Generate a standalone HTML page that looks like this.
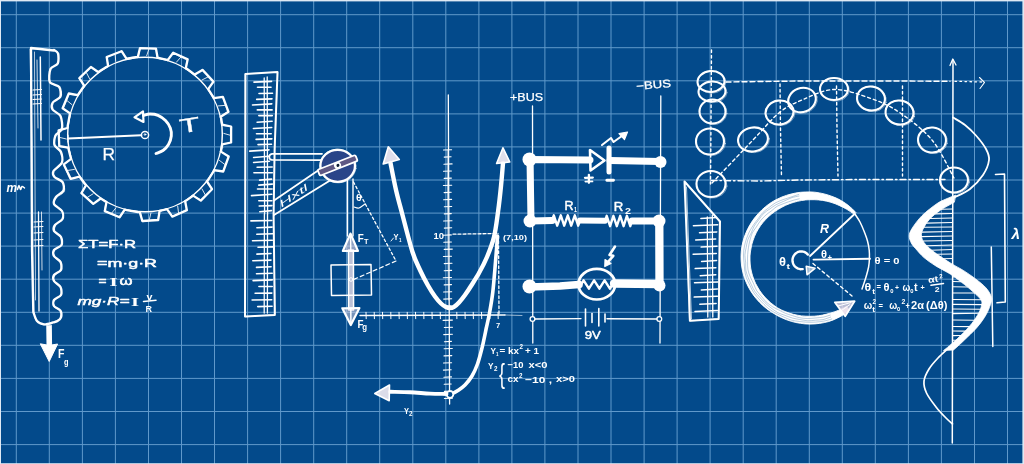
<!DOCTYPE html>
<html lang="en"><head><meta charset="utf-8"><title>Physics blueprint</title>
<style>html,body{margin:0;padding:0;background:#034a8b;overflow:hidden}svg{display:block}</style></head>
<body>
<svg width="1024" height="464" viewBox="0 0 1024 464"><rect width="1024" height="464" fill="#034a8b"/>
<path d="M16.3 0V464M49.3 0V464M82.4 0V464M115.4 0V464M148.5 0V464M181.5 0V464M214.5 0V464M247.6 0V464M280.6 0V464M313.7 0V464M346.7 0V464M379.7 0V464M412.8 0V464M445.8 0V464M478.9 0V464M511.9 0V464M544.9 0V464M578 0V464M611 0V464M644.1 0V464M677.1 0V464M710.1 0V464M743.2 0V464M776.2 0V464M809.3 0V464M842.3 0V464M875.3 0V464M908.4 0V464M941.4 0V464M974.5 0V464M1007.5 0V464M0 14.7H1024M0 47.7H1024M0 80.8H1024M0 113.9H1024M0 146.9H1024M0 180H1024M0 213.1H1024M0 246.1H1024M0 279.2H1024M0 312.3H1024M0 345.3H1024M0 378.4H1024M0 411.5H1024M0 444.6H1024" stroke="#6099cb" stroke-width="1" fill="none"/>
<rect x="0" y="0" width="1024" height="1.4" fill="#dfe9f4"/>
<rect x="0" y="0" width="1" height="464" fill="#dfe9f4"/>
<rect x="1022.4" y="0" width="1.6" height="464" fill="#dfe9f4"/>
<rect x="0" y="463.2" width="1024" height="0.8" fill="#dfe9f4"/>
<defs><filter id="soft" x="0" y="0" width="1024" height="464" filterUnits="userSpaceOnUse"><feGaussianBlur stdDeviation="0.38"/></filter></defs>
<g filter="url(#soft)">
<g stroke-linecap="round" stroke-linejoin="round" fill="none" stroke="#fff">
<path d="M31 48 L54 50.5  C54 50.4 53.4 49.6 54 50 C54.6 50.4 57.5 51.6 58 53.5 C58.5 55.4 58.8 61.3 57.8 63.5 C56.8 65.7 51.6 66.4 50.5 69 C49.4 71.6 48.6 79.5 49.8 82 C51 84.5 57.8 85 59.3 87 C60.8 89 61.4 94.3 60.5 96.5 C59.6 98.7 53.9 100.7 52.8 102.5 C51.7 104.3 51.4 107.6 52.5 109.5 C53.6 111.4 59.2 113.3 60.5 116 C61.8 118.7 62.7 126.3 62 129 C61.3 131.7 56.5 133.3 55.5 135.5 C54.5 137.7 53.7 142.7 54.5 145 C55.3 147.3 60 149.6 61 152 C62 154.4 63 159.8 62 162.5 C61 165.2 54.5 169 53.5 171 C52.5 173 53.2 175.5 54.5 177 C55.8 178.5 61.2 180.1 62.5 182 C63.8 183.9 64.4 188.4 63.5 190.5 C62.6 192.6 57.3 195.1 56 197 C54.7 198.9 53.2 202 54 204 C54.8 206 60.8 208.9 62 211 C63.2 213.1 63.5 217 62.5 219 C61.5 221 56.2 223.3 55 225 C53.8 226.7 53.2 229.3 54 231 C54.8 232.7 60 235 61 237 C62 239 62.5 243.2 61.5 245 C60.5 246.8 55 248.5 54 250 C53 251.5 53.1 254.3 54 256 C54.9 257.7 59.5 260 60.5 262 C61.5 264 61.9 268.2 61 270 C60.1 271.8 55 273.5 54 275 C53 276.5 53.1 279.3 54 281 C54.9 282.7 59.5 285 60.5 287 C61.5 289 61.9 293.2 61 295 C60.1 296.8 55 298.5 54 300 C53 301.5 53.1 304.5 54 306 C54.9 307.5 59.5 308.9 60.5 310.5 C61.5 312.1 61.4 316 61 317.5 C60.6 319 58.6 320.3 57.5 321 C56.4 321.7 54.9 322 53 322.5 C51.1 323 46.2 324.5 44 324.3 C41.8 324.1 38.5 322.7 37 321 C35.5 319.3 33.8 313.3 33.3 312 L32 250 L31.5 150 Z" stroke="#fff" stroke-width="2.3" fill="none" />
<path d="M30.3 49 L53 50  C53.1 50 53.1 49.6 53.9 50.1 C54.7 50.6 58.3 51.5 58.8 53.4 C59.4 55.3 59.1 61.5 57.8 63.7 C56.6 65.9 51 66.4 49.9 69 C48.8 71.7 48.9 80.1 50.1 82.6 C51.3 85 57.1 84.6 58.5 86.6 C59.8 88.6 60.4 95 59.7 97.1 C58.9 99.2 54.1 99.7 53.2 101.6 C52.3 103.4 52.4 108.4 53.5 110.4 C54.5 112.5 59.7 113.8 60.8 116.2 C61.9 118.7 62.1 125.5 61.3 128 C60.6 130.6 56.6 132.3 55.6 134.6 C54.5 136.9 53.2 142.1 53.9 144.5 C54.5 146.9 58.9 149.3 60.1 151.9 C61.2 154.5 62.8 160.5 61.9 163.2 C61 165.9 54.6 169.3 53.5 171.3 C52.5 173.3 53.3 175.9 54.5 177.3 C55.7 178.8 61 179.6 62.4 181.6 C63.8 183.5 65.3 189.3 64.5 191.5 C63.7 193.7 58.2 195.7 56.7 197.4 C55.2 199.1 52.9 201.7 53.6 203.5 C54.3 205.2 60.3 208 61.6 210.1 C62.9 212.3 63.9 216.8 63 218.8 C62.2 220.8 56.8 223 55.7 224.8 C54.6 226.6 54.3 230.1 54.9 231.7 C55.5 233.3 59 234.6 60 236.4 C61 238.3 63 243.1 62.3 244.9 C61.6 246.8 56.2 248.2 55 249.8 C53.7 251.4 52.3 254.6 53.1 256.3 C54 257.9 60.1 259.7 61.1 261.5 C62 263.4 61 267.7 60.2 269.7 C59.3 271.6 55.9 274 54.9 275.5 C54 277 52.6 279 53.2 280.5 C53.9 282 58.5 284.2 59.7 286.1 C60.9 288.1 62.4 292.4 61.6 294.4 C60.8 296.3 55.3 298.2 54.1 299.9 C53 301.6 52.6 304.9 53.4 306.5 C54.2 308 58.8 309.3 59.8 310.8 C60.7 312.3 60.6 316 60.2 317.3 C59.8 318.7 58.1 319.9 56.9 320.5 C55.8 321.2 53.8 321.4 52 322 C50.2 322.6 46.2 325.2 44 325 C41.8 324.8 37.4 322.3 36 320.5 C34.6 318.7 34.3 313.2 34 312 L33 250 L32.3 150 Z" stroke="#fff" stroke-width="1.0" fill="none" opacity="0.55" />
<path d="M40.3 57L41 140" stroke="#fff" stroke-width="1.5" fill="none" />
<path d="M37 60L38 128" stroke="#fff" stroke-width="1.0" fill="none" opacity="0.8" />
<path d="M34.5 52L35.5 300" stroke="#fff" stroke-width="1.0" fill="none" opacity="0.7" />
<path d="M38.5 212L39 311" stroke="#fff" stroke-width="1.3" fill="none" />
<path d="M41.5 212L42 270" stroke="#fff" stroke-width="1.0" fill="none" opacity="0.8" />
<path d="M33 90L41.5 89.5" stroke="#fff" stroke-width="1.2" fill="none" />
<path d="M33 95L41.5 94.5" stroke="#fff" stroke-width="1.2" fill="none" />
<path d="M33 99.5L41.5 99" stroke="#fff" stroke-width="1.2" fill="none" />
<path d="M33 104L41.5 103.5" stroke="#fff" stroke-width="1.2" fill="none" />
<path d="M34 222L43 221.5" stroke="#fff" stroke-width="1.0" fill="none" />
<path d="M34 227L43 226.5" stroke="#fff" stroke-width="1.0" fill="none" />
<path d="M34 233L43 232.5" stroke="#fff" stroke-width="1.0" fill="none" />
<path d="M34 240L43 239.5" stroke="#fff" stroke-width="1.0" fill="none" />
<path d="M34 246L43 245.5" stroke="#fff" stroke-width="1.0" fill="none" />
<path d="M46.8 325.5 L47 345 L40.3 343.8 L49.2 361.5 L57.6 344 L51.6 345 L51.3 325.5Z" stroke="#fff" stroke-width="1.0" fill="#fff" />
<path d="M221.9 146.4 L222.2 144.4 L231.1 142.5 L231.1 126.5 L222.2 124.6 L221.9 122.6 L221.2 118.7 L220.7 116.7 L228.5 111.8 L222.9 96.9 L213.8 98.2 L212.8 96.4 L209.3 90.8 L208.2 89.1 L213.4 81.6 L202.5 69.9 L194.7 74.6 L193.1 73.4 L187.5 69.3 L185.8 68.2 L187.7 59.3 L173.2 52.7 L167.7 60.1 L165.8 59.5 L159.6 58.1 L157.6 57.7 L156 48.7 L140 48.1 L137.8 57 L135.8 57.2 L128.6 58.5 L126.6 58.9 L121.6 51.2 L106.7 57 L108.1 66 L106.3 67 L100.2 70.9 L98.5 72.1 L90.9 67 L79.4 78.1 L84.3 85.9 L83 87.5 L78.9 93.5 L77.8 95.2 L68.8 93.5 L62.6 108.2 L70.1 113.4 L69.6 115.4 L67.7 126 L67.5 128 L58.6 130.3 L59.3 146.2 L68.3 147.7 L68.7 149.7 L70.5 156.9 L71.1 158.8 L63.8 164.4 L70.7 178.8 L79.6 176.6 L80.7 178.3 L84.7 183.7 L86 185.2 L81.4 193.2 L93.3 203.9 L100.7 198.5 L102.4 199.6 L104.7 201 L106.5 202.1 L104.8 211.1 L119.6 217.2 L124.7 209.6 L126.7 210.1 L137.8 212 L139.8 212.1 L142.3 221 L158.2 220 L159.6 210.9 L161.6 210.5 L165 209.7 L167 209.1 L172.3 216.6 L186.9 210.2 L185.1 201.2 L186.8 200.1 L191.5 196.9 L193.1 195.6 L200.8 200.6 L212 189.2 L207 181.5 L208.2 179.9 L213.2 172 L214.1 170.2 L223.2 171.5 L228.7 156.5 L220.9 151.6 L221.3 149.6Z" stroke="#fff" stroke-width="2.3" fill="none" />
<path d="M222.7 146.9 L221.8 145.1 L230.6 142.3 L231.8 126.8 L221.4 125.5 L221.4 122.2 L221.7 118.4 L220.4 116 L227.7 112 L222.4 97 L213.6 98.1 L213.7 96.4 L209.5 91.4 L207.6 88.5 L214.2 82.2 L202.1 69.4 L195.1 75.4 L192.6 74.2 L188.2 69.5 L185.6 67.5 L186.9 60.1 L172.7 53.1 L167.3 60.7 L166 59.2 L159 58.5 L156.8 57.2 L156.1 49.3 L140.2 47.7 L138.6 56.5 L134.9 56.8 L128.5 57.7 L126 58.7 L121.7 50.6 L106.4 57.7 L109 66.3 L106.7 67.1 L99.5 70.1 L97.6 72.9 L91.3 67.8 L78.6 78.3 L84.3 86.3 L82.7 88.4 L78.1 93.6 L78.3 96 L69.3 93.9 L63.1 108.9 L69.8 113.8 L70.3 116.1 L67.5 126.5 L68.1 128.1 L58.8 130.1 L59.4 146.4 L67.6 148 L69.6 150.4 L70.9 156.7 L71.5 158.9 L63.7 165 L70 179.2 L78.8 176.8 L80.7 177.9 L85.1 183.7 L86.2 186 L81 192.3 L92.9 204.2 L100.2 197.9 L103.1 199.9 L104.6 201.8 L106.1 202.4 L104.2 211 L120.1 217.9 L125.4 209.4 L126.9 209.8 L137.2 212 L140.5 212.8 L142.7 221.8 L157.8 219.4 L159.5 210.5 L161.1 210.4 L165.2 209.7 L166.6 209.7 L173.2 216.5 L186.2 209.3 L185.7 200.4 L187.2 200.2 L191.2 197.4 L192.2 195 L200.8 199.7 L212.6 188.7 L206.3 180.7 L208.4 179.8 L213.4 172.3 L214.7 171 L223.5 170.9 L228.6 155.9 L220 151.6 L221.7 149Z" stroke="#fff" stroke-width="1.0" fill="none" opacity="0.55" />
<ellipse cx="145.0" cy="134.5" rx="77.3" ry="77.3" stroke="#fff" stroke-width="1.5"/>
<path d="M223.8 133.4L230 135.2" stroke="#fff" stroke-width="1.0" fill="none" opacity="0.85" />
<path d="M218.4 105.9L224.9 105.4" stroke="#fff" stroke-width="1.0" fill="none" opacity="0.85" />
<path d="M201.9 80L207.7 77.1" stroke="#fff" stroke-width="1.0" fill="none" opacity="0.85" />
<path d="M176.4 62.2L180.7 57.3" stroke="#fff" stroke-width="1.0" fill="none" opacity="0.85" />
<path d="M146.7 55.7L148.7 49.6" stroke="#fff" stroke-width="1.0" fill="none" opacity="0.85" />
<path d="M115.7 61.3L115.2 54.9" stroke="#fff" stroke-width="1.0" fill="none" opacity="0.85" />
<path d="M89.5 78.6L86.5 72.8" stroke="#fff" stroke-width="1.0" fill="none" opacity="0.85" />
<path d="M72 104.7L67 100.6" stroke="#fff" stroke-width="1.0" fill="none" opacity="0.85" />
<path d="M66.3 139L60.1 137.5" stroke="#fff" stroke-width="1.0" fill="none" opacity="0.85" />
<path d="M74.4 169.4L68 170.4" stroke="#fff" stroke-width="1.0" fill="none" opacity="0.85" />
<path d="M93.1 193.8L87.6 197.2" stroke="#fff" stroke-width="1.0" fill="none" opacity="0.85" />
<path d="M116 207.8L111.9 212.8" stroke="#fff" stroke-width="1.0" fill="none" opacity="0.85" />
<path d="M150.9 213.1L149.4 219.4" stroke="#fff" stroke-width="1.0" fill="none" opacity="0.85" />
<path d="M177.7 206.2L178.5 212.6" stroke="#fff" stroke-width="1.0" fill="none" opacity="0.85" />
<path d="M202 188.9L205.1 194.6" stroke="#fff" stroke-width="1.0" fill="none" opacity="0.85" />
<path d="M219.4 160.4L224.6 164.3" stroke="#fff" stroke-width="1.0" fill="none" opacity="0.85" />
<ellipse cx="145" cy="135" rx="3.6" ry="3.6" stroke="#fff" stroke-width="1.5" fill="none"/>
<ellipse cx="145" cy="134.5" rx="0.8" ry="0.8" stroke="#fff" stroke-width="1.0" fill="none"/>
<path d="M68 138.5L141.3 135.3" stroke="#fff" stroke-width="2.0" fill="none" />
<path d="M68 135L68 142" stroke="#fff" stroke-width="1.2" fill="none" />
<path d="M143.5 115.5 C144.6 115.2 147.6 114 150 114 C152.4 114 155.4 114.2 158 115.3 C160.6 116.4 163.4 118.4 165.5 120.5 C167.6 122.6 169.3 125.4 170.3 128 C171.3 130.6 171.6 133.2 171.3 136 C171 138.8 169.9 142.1 168.5 144.5 C167.1 146.9 165.1 149 163 150.5 C160.9 152 157.2 153 156 153.5" stroke="#fff" stroke-width="2.9" fill="none" />
<path d="M134.5 117.3 L143 111.3 L143.5 122Z" stroke="#fff" stroke-width="2.2" fill="none" />
<path d="M245.5 74 L277.5 72 L274.6 150 L273.6 215 L274.8 315 L245 316.5Z" stroke="#fff" stroke-width="2.0" fill="none" />
<path d="M245.1 73.8 L277.8 72 L274.8 150.4 L273.4 215.5 L275.4 314.3 L245.7 316.9Z" stroke="#fff" stroke-width="0.9" fill="none" opacity="0.5" />
<path d="M264.2 78L264.6 214" stroke="#fff" stroke-width="1.3" fill="none" />
<path d="M267.2 77L267.6 214" stroke="#fff" stroke-width="1.3" fill="none" />
<path d="M264.4 214L264.2 313" stroke="#fff" stroke-width="1.3" fill="none" />
<path d="M267.5 214L267.4 313" stroke="#fff" stroke-width="1.3" fill="none" />
<path d="M254 82.1L271.6 81.4" stroke="#fff" stroke-width="1.6" fill="none" />
<path d="M257.5 87.2L271 87.2" stroke="#fff" stroke-width="1.6" fill="none" />
<path d="M259 93.5L272.5 93.3" stroke="#fff" stroke-width="1.6" fill="none" />
<path d="M256.7 99.4L272 98.9" stroke="#fff" stroke-width="1.6" fill="none" />
<path d="M252.5 105L271.8 103.9" stroke="#fff" stroke-width="1.6" fill="none" />
<path d="M257.3 109.9L272.1 109.9" stroke="#fff" stroke-width="1.6" fill="none" />
<path d="M258.8 115.6L272.3 115.6" stroke="#fff" stroke-width="1.6" fill="none" />
<path d="M257.1 122.3L272.1 121.2" stroke="#fff" stroke-width="1.6" fill="none" />
<path d="M253.4 128.5L271.7 127.5" stroke="#fff" stroke-width="1.6" fill="none" />
<path d="M256.5 133.8L271.2 133.8" stroke="#fff" stroke-width="1.6" fill="none" />
<path d="M256.1 139.4L271.9 138.9" stroke="#fff" stroke-width="1.6" fill="none" />
<path d="M258 144.6L271.5 144.2" stroke="#fff" stroke-width="1.6" fill="none" />
<path d="M249.7 151.1L269 149.9" stroke="#fff" stroke-width="1.6" fill="none" />
<path d="M253.6 157.5L269 156.2" stroke="#fff" stroke-width="1.6" fill="none" />
<path d="M253.6 162.5L269.4 161.3" stroke="#fff" stroke-width="1.6" fill="none" />
<path d="M257.1 167.2L272.2 167" stroke="#fff" stroke-width="1.6" fill="none" />
<path d="M253.9 172.7L272.3 172.7" stroke="#fff" stroke-width="1.6" fill="none" />
<path d="M259.6 180.1L271.6 179.1" stroke="#fff" stroke-width="1.6" fill="none" />
<path d="M258.8 185.1L272.3 184.1" stroke="#fff" stroke-width="1.6" fill="none" />
<path d="M257.5 189L272.1 189" stroke="#fff" stroke-width="1.6" fill="none" />
<path d="M251.5 195.6L271.8 194.3" stroke="#fff" stroke-width="1.6" fill="none" />
<path d="M258.8 200.7L271.9 200.7" stroke="#fff" stroke-width="1.6" fill="none" />
<path d="M259.2 206L271.9 205.6" stroke="#fff" stroke-width="1.6" fill="none" />
<path d="M259.8 211.7L271.5 210.6" stroke="#fff" stroke-width="1.6" fill="none" />
<path d="M250.9 220.9L271.8 220.5" stroke="#fff" stroke-width="1.6" fill="none" />
<path d="M256.9 227.8L272.1 227.1" stroke="#fff" stroke-width="1.6" fill="none" />
<path d="M256.8 234.3L272.7 233.7" stroke="#fff" stroke-width="1.6" fill="none" />
<path d="M252.5 240.7L272.3 240.3" stroke="#fff" stroke-width="1.6" fill="none" />
<path d="M258 247.2L272.8 246.9" stroke="#fff" stroke-width="1.6" fill="none" />
<path d="M256.9 254.1L271 253.5" stroke="#fff" stroke-width="1.6" fill="none" />
<path d="M252.8 260.7L271 260.1" stroke="#fff" stroke-width="1.6" fill="none" />
<path d="M256.5 267.4L271.1 266.7" stroke="#fff" stroke-width="1.6" fill="none" />
<path d="M256.5 273.8L272.2 273.3" stroke="#fff" stroke-width="1.6" fill="none" />
<path d="M253.1 280.6L272.3 279.9" stroke="#fff" stroke-width="1.6" fill="none" />
<path d="M258.9 286.5L272.2 286.5" stroke="#fff" stroke-width="1.6" fill="none" />
<path d="M255.1 293.3L271.8 293.1" stroke="#fff" stroke-width="1.6" fill="none" />
<path d="M252.1 300L271.7 299.7" stroke="#fff" stroke-width="1.6" fill="none" />
<path d="M257.7 306.6L272.1 306.3" stroke="#fff" stroke-width="1.6" fill="none" />
<path d="M272 153.8 L322 153.8 M272 159.8 L321 160.2 M272 153.8 C268.3 154.5 268.3 159.3 272 159.8" stroke="#fff" stroke-width="1.8" fill="none" />
<path d="M274 200.5L321 168.5" stroke="#fff" stroke-width="1.8" fill="none" />
<path d="M274 215L330 180.5" stroke="#fff" stroke-width="1.8" fill="none" />
<ellipse cx="337.7" cy="165.8" rx="17.3" ry="16" stroke="#fff" stroke-width="2.3" fill="#2b4589"/>
<ellipse cx="337.9" cy="166" rx="18.2" ry="16.8" stroke="#fff" stroke-width="0.9" fill="none" opacity="0.6" transform="rotate(8 337.9 166)"/>
<g transform="rotate(-21.5 337.5 165.3)">
<rect x="317.3" y="162.2" width="40.6" height="6.4" rx="1.5" fill="#5f5884" stroke="#fff" stroke-width="1.8"/>
<circle cx="337.5" cy="165.4" r="3.6" fill="#fff" stroke="none"/>
<circle cx="337.9" cy="165.5" r="1.5" fill="#0b1a33" stroke="none"/>
</g>
<path d="M347.5 180L347.5 236" stroke="#fff" stroke-width="1.4" fill="none" />
<path d="M353 179L353 236" stroke="#fff" stroke-width="1.4" fill="none" />
<path d="M348.4 250 L348.6 310 L353.6 310 L353.4 250 Z" stroke="#fff" stroke-width="1.5" fill="#eadfea" fill-opacity="0.8"/>
<path d="M350.5 233.5 L342.8 251 L358 251Z" stroke="#fff" stroke-width="2.1" fill="#e9dbe8" fill-opacity="0.6"/>
<path d="M350.6 236L350.8 251" stroke="#fff" stroke-width="1.4" fill="none" />
<path d="M350.8 325 L342.3 308.3 L359.4 308Z" stroke="#fff" stroke-width="2.2" fill="#e9dbe8" fill-opacity="0.5"/>
<path d="M350.8 309L350.9 322" stroke="#fff" stroke-width="1.5" fill="none" />
<path d="M331 265 L371 264.5 L371.5 295 L331.5 295.5Z" stroke="#fff" stroke-width="1.5" fill="none" />
<ellipse cx="351" cy="279.5" rx="1.8" ry="1.8" stroke="#fff" stroke-width="1.0" fill="none"/>
<path d="M353.5 182 L396 261" stroke="#fff" stroke-width="1.3" fill="none" stroke-dasharray="2.5 2.5"/>
<path d="M396 261 L352.5 280" stroke="#fff" stroke-width="1.2" fill="none" stroke-dasharray="4 3"/>
<path d="M354 207 C354.8 207.2 357.2 208.5 359 208 C360.8 207.5 364 204.7 365 204" stroke="#fff" stroke-width="1.1" fill="none" />
<path d="M448.3 95L449.6 404" stroke="#fff" stroke-width="1.3" fill="none" />
<path d="M360 315.5L505 315" stroke="#fff" stroke-width="1.4" fill="none" />
<path d="M505 315L522 315.5" stroke="#fff" stroke-width="1.0" fill="none" opacity="0.6" />
<path d="M443.5 150L451.6 149.7" stroke="#fff" stroke-width="1.1" fill="none" />
<path d="M444.2 157.1L451.1 156.8" stroke="#fff" stroke-width="1.1" fill="none" />
<path d="M443.9 164.2L452.1 163.9" stroke="#fff" stroke-width="1.1" fill="none" />
<path d="M443.5 171.3L451.4 171" stroke="#fff" stroke-width="1.1" fill="none" />
<path d="M444.2 178.4L451.4 178.1" stroke="#fff" stroke-width="1.1" fill="none" />
<path d="M443.4 185.5L451.7 185.2" stroke="#fff" stroke-width="1.1" fill="none" />
<path d="M444.1 192.6L451.2 192.3" stroke="#fff" stroke-width="1.1" fill="none" />
<path d="M443.6 199.7L451.6 199.4" stroke="#fff" stroke-width="1.1" fill="none" />
<path d="M444.3 206.8L451.7 206.5" stroke="#fff" stroke-width="1.1" fill="none" />
<path d="M444.3 213.9L451.3 213.6" stroke="#fff" stroke-width="1.1" fill="none" />
<path d="M443.6 221L452 220.7" stroke="#fff" stroke-width="1.1" fill="none" />
<path d="M444.3 228.1L451.7 227.8" stroke="#fff" stroke-width="1.1" fill="none" />
<path d="M443.4 235.2L451.3 234.9" stroke="#fff" stroke-width="1.1" fill="none" />
<path d="M443.8 242.3L451.4 242" stroke="#fff" stroke-width="1.1" fill="none" />
<path d="M444.2 249.4L452.3 249.1" stroke="#fff" stroke-width="1.1" fill="none" />
<path d="M443.4 256.5L451.5 256.2" stroke="#fff" stroke-width="1.1" fill="none" />
<path d="M444.2 263.6L452 263.3" stroke="#fff" stroke-width="1.1" fill="none" />
<path d="M444.2 270.7L451.6 270.4" stroke="#fff" stroke-width="1.1" fill="none" />
<path d="M443.3 277.8L451.5 277.5" stroke="#fff" stroke-width="1.1" fill="none" />
<path d="M444.2 284.9L451.5 284.6" stroke="#fff" stroke-width="1.1" fill="none" />
<path d="M443.6 292L451.7 291.7" stroke="#fff" stroke-width="1.1" fill="none" />
<path d="M443.7 299.1L451.7 298.8" stroke="#fff" stroke-width="1.1" fill="none" />
<path d="M444.4 306.2L451.3 305.9" stroke="#fff" stroke-width="1.1" fill="none" />
<path d="M443.1 320.4L452.4 320.1" stroke="#fff" stroke-width="1.1" fill="none" />
<path d="M444.3 327.5L452.5 327.2" stroke="#fff" stroke-width="1.1" fill="none" />
<path d="M443.7 334.6L452.4 334.3" stroke="#fff" stroke-width="1.1" fill="none" />
<path d="M444.4 341.7L451.4 341.4" stroke="#fff" stroke-width="1.1" fill="none" />
<path d="M444.1 348.8L452.3 348.5" stroke="#fff" stroke-width="1.1" fill="none" />
<path d="M444 355.9L451.8 355.6" stroke="#fff" stroke-width="1.1" fill="none" />
<path d="M443.5 363L451.6 362.7" stroke="#fff" stroke-width="1.1" fill="none" />
<path d="M443.4 370.1L451.2 369.8" stroke="#fff" stroke-width="1.1" fill="none" />
<path d="M443.9 377.2L451.5 376.9" stroke="#fff" stroke-width="1.1" fill="none" />
<path d="M444.2 384.3L451.2 384" stroke="#fff" stroke-width="1.1" fill="none" />
<path d="M444.4 391.4L452.1 391.1" stroke="#fff" stroke-width="1.1" fill="none" />
<path d="M444.4 398.5L452.4 398.2" stroke="#fff" stroke-width="1.1" fill="none" />
<path d="M447.2 150L448.4 300" stroke="#fff" stroke-width="0.9" fill="none" opacity="0.7" />
<path d="M366 312.3L366.2 318.7" stroke="#fff" stroke-width="1.0" fill="none" />
<path d="M374.2 312.3L374.4 318.7" stroke="#fff" stroke-width="1.0" fill="none" />
<path d="M382.5 312.3L382.7 318.7" stroke="#fff" stroke-width="1.0" fill="none" />
<path d="M390.8 312.3L390.9 318.7" stroke="#fff" stroke-width="1.0" fill="none" />
<path d="M399 312.3L399.2 318.7" stroke="#fff" stroke-width="1.0" fill="none" />
<path d="M407.2 312.3L407.4 318.7" stroke="#fff" stroke-width="1.0" fill="none" />
<path d="M415.5 312.3L415.7 318.7" stroke="#fff" stroke-width="1.0" fill="none" />
<path d="M423.8 312.3L423.9 318.7" stroke="#fff" stroke-width="1.0" fill="none" />
<path d="M432 312.3L432.2 318.7" stroke="#fff" stroke-width="1.0" fill="none" />
<path d="M440.2 312.3L440.4 318.7" stroke="#fff" stroke-width="1.0" fill="none" />
<path d="M456.8 312.3L456.9 318.7" stroke="#fff" stroke-width="1.0" fill="none" />
<path d="M465 312.3L465.2 318.7" stroke="#fff" stroke-width="1.0" fill="none" />
<path d="M473.2 312.3L473.4 318.7" stroke="#fff" stroke-width="1.0" fill="none" />
<path d="M481.5 312.3L481.7 318.7" stroke="#fff" stroke-width="1.0" fill="none" />
<path d="M489.8 312.3L489.9 318.7" stroke="#fff" stroke-width="1.0" fill="none" />
<path d="M498 312.3L498.2 318.7" stroke="#fff" stroke-width="1.0" fill="none" />
<path d="M453 234.2 L498 233.5" stroke="#fff" stroke-width="1.3" fill="none" stroke-dasharray="3 2"/>
<path d="M498.5 236 L499 314" stroke="#fff" stroke-width="1.3" fill="none" stroke-dasharray="2.5 2.5"/>
<path d="M390.5 163 C391.4 167.5 394 181.3 396 190 C398 198.7 399.8 204.7 402.5 215 C405.2 225.3 409.6 242.8 412.5 252 C415.4 261.2 417.4 264.4 420 270 C422.6 275.6 425.5 281.1 428 285.5 C430.5 289.9 432.8 293.5 435 296.5 C437.2 299.5 439.2 301.8 441 303.5 C442.8 305.2 444.5 306.2 446 307 C447.5 307.8 448.7 308 450 308 C451.3 308 452.5 307.7 454 306.8 C455.5 305.9 457.2 304.5 459 302.5 C460.8 300.5 463 297.8 465 295 C467 292.2 468.7 289.7 471 286 C473.3 282.3 476.3 277.8 479 273 C481.7 268.2 484.5 263 487 257 C489.5 251 492.2 244.5 494 237 C495.8 229.5 496.8 220.5 498 212 C499.2 203.5 500.2 194.2 501 186 C501.8 177.8 502.7 166.8 503 163" stroke="#fff" stroke-width="4.4" fill="none" />
<path d="M391.1 163.1 C391.8 167.6 393.5 181.7 395.3 190.3 C397.1 198.9 399.1 204.4 402 214.7 C404.9 225 409.8 242.7 412.7 252 C415.7 261.4 417.3 265.1 419.9 270.6 C422.5 276.2 425.7 280.9 428.2 285.3 C430.6 289.7 432.5 293.9 434.7 297 C436.8 300.1 439.1 302.3 441 303.9 C442.8 305.5 444.3 305.8 445.8 306.6 C447.3 307.3 448.8 308.3 450 308.4 C451.3 308.5 451.9 308.1 453.5 307.2 C455.1 306.3 457.6 305.1 459.6 302.9 C461.6 300.8 463.5 297 465.5 294.3 C467.4 291.6 469 290.1 471.2 286.5 C473.3 282.9 475.8 277.6 478.4 272.7 C481 267.8 484.1 263 486.7 257 C489.3 251.1 491.9 244.6 493.9 237 C495.8 229.3 497.3 219.9 498.4 211.3 C499.5 202.7 499.7 193.6 500.4 185.5 C501.1 177.3 502.1 166.2 502.5 162.4" stroke="#fff" stroke-width="1.2" fill="none" opacity="0.6" />
<path d="M388.3 146.8 L383.2 164 L399.3 159.5Z" stroke="#fff" stroke-width="1.6" fill="#f3ecf3" fill-opacity="0.92"/>
<path d="M503 147.8 L496.6 163.5 L509.8 162Z" stroke="#fff" stroke-width="1.6" fill="#f3ecf3" fill-opacity="0.92"/>
<path d="M497.5 236 C497.2 240.3 496.3 252.7 495.5 262 C494.7 271.3 493.8 283.5 492.8 292 C491.8 300.5 490.6 307 489.5 313 C488.4 319 487.6 322.2 486.3 328 C485.1 333.8 483.5 342 482 348 C480.5 354 479.2 359.3 477.5 364 C475.8 368.7 474.1 372.5 472 376 C469.9 379.5 467.4 382.5 465 385 C462.6 387.5 459.4 389.5 457.5 390.8 C455.6 392.1 454.2 392.6 453.5 393" stroke="#fff" stroke-width="3.6" fill="none" />
<ellipse cx="450" cy="394.5" rx="3.3" ry="3.3" stroke="#fff" stroke-width="1.8" fill="#034a8b"/>
<path d="M446.5 394 C443.8 393.9 436.1 393.9 430 393.6 C423.9 393.3 416.7 392.6 410 392.3 C403.3 392 393.3 391.9 390 391.8" stroke="#fff" stroke-width="3.9" fill="none" />
<path d="M374.8 393.5 L389.5 385 L389.2 400.8Z" stroke="#fff" stroke-width="1.6" fill="#f3ecf3" fill-opacity="0.9"/>
<path d="M532.5 106L532.8 343" stroke="#fff" stroke-width="1.3" fill="none" />
<path d="M660.8 96L660 343" stroke="#fff" stroke-width="1.3" fill="none" />
<path d="M610 160.5 L660 161.5" stroke="#fff" stroke-width="7.0" fill="none" />
<path d="M590 160 L530 159.5 L531 221 L552 220.5" stroke="#fff" stroke-width="7.0" fill="none" />
<path d="M580 220.5 L605 220.8" stroke="#fff" stroke-width="6.0" fill="none" />
<path d="M632 221 L659 221" stroke="#fff" stroke-width="7.0" fill="none" />
<path d="M659.3 221 L659.5 284 L614 283.5" stroke="#fff" stroke-width="8.3" fill="none" />
<path d="M579 284.5 L560 286 L530 287" stroke="#fff" stroke-width="7.6" fill="none" />
<circle cx="529.5" cy="159.5" r="7" fill="#fff" stroke="none"/>
<circle cx="660.5" cy="162" r="6" fill="#fff" stroke="none"/>
<circle cx="530" cy="221" r="6.5" fill="#fff" stroke="none"/>
<circle cx="659" cy="221" r="6.5" fill="#fff" stroke="none"/>
<circle cx="529.5" cy="286.5" r="7" fill="#fff" stroke="none"/>
<circle cx="659.5" cy="285.5" r="6" fill="#fff" stroke="none"/>
<path d="M590 150 L590.5 170.5 L604.5 160.5Z" stroke="#fff" stroke-width="2.6" fill="none" />
<path d="M609 148L609 172" stroke="#fff" stroke-width="5" fill="none" />
<path d="M602 145 L611 138 L613.5 142 L624 134.5" stroke="#fff" stroke-width="2.1" fill="none" />
<path d="M627.5 132 L619 133.5 L624.5 139.5Z" stroke="#fff" stroke-width="1.2" fill="#fff" />
<path d="M585 177.8L592.8 177.6" stroke="#fff" stroke-width="2.3" fill="none" />
<path d="M588.9 174.8L588.9 182.8" stroke="#fff" stroke-width="2.3" fill="none" />
<path d="M585.3 181.6L592.5 181.4" stroke="#fff" stroke-width="1.7" fill="none" />
<path d="M606.8 180.3L613.5 180.2" stroke="#fff" stroke-width="2.9" fill="none" />
<path d="M552 220.5 L553.8 215.3 L557.2 225.7 L560.8 215.3 L564.2 225.7 L567.8 215.3 L571.2 225.7 L574.8 215.3 L578.2 225.7 L580 220.5" stroke="#fff" stroke-width="2.4" fill="none" />
<path d="M605 221 L606.7 215.8 L610.1 226.2 L613.4 215.8 L616.8 226.2 L620.2 215.8 L623.6 226.2 L626.9 215.8 L630.3 226.2 L632 221" stroke="#fff" stroke-width="2.4" fill="none" />
<ellipse cx="596.8" cy="284.2" rx="18.3" ry="15.3" stroke="#fff" stroke-width="2.7" fill="none"/>
<path d="M581 284.5 L583.6 280.3 L588.9 288.7 L594.1 280.3 L599.4 288.7 L604.6 280.3 L609.9 288.7 L612.5 284.5" stroke="#fff" stroke-width="2.4" fill="none" />
<path d="M615 246.5 L609.5 255 L613.3 255.8 L607.5 262.5" stroke="#fff" stroke-width="2.6" fill="none" />
<path d="M604.8 266.5 L605 259.5 L611 263.5Z" stroke="#fff" stroke-width="1.2" fill="#fff" />
<ellipse cx="532.5" cy="319" rx="2.4" ry="2.4" stroke="#fff" stroke-width="1.3" fill="#034a8b"/>
<ellipse cx="659.3" cy="319" rx="2.4" ry="2.4" stroke="#fff" stroke-width="1.3" fill="#034a8b"/>
<path d="M535 319L581 318.6" stroke="#fff" stroke-width="1.4" fill="none" />
<path d="M607 318.8L656.8 319" stroke="#fff" stroke-width="1.4" fill="none" />
<path d="M585.5 309L585.5 326" stroke="#fff" stroke-width="1.6" fill="none" />
<path d="M592 313.5L592 322.5" stroke="#fff" stroke-width="1.6" fill="none" />
<path d="M598.8 308.5L598.8 326" stroke="#fff" stroke-width="1.6" fill="none" />
<path d="M605 314L605 322" stroke="#fff" stroke-width="1.6" fill="none" />
<path d="M684.5 181.5 L720 221.5 L718.7 319 L690 320.8Z" stroke="#fff" stroke-width="2.0" fill="none" />
<path d="M685.4 182.1 L719.3 221.5 L718.4 318.7 L689.7 321.1Z" stroke="#fff" stroke-width="1.0" fill="none" opacity="0.55" />
<path d="M686.5 187L691.5 319" stroke="#fff" stroke-width="1.0" fill="none" opacity="0.7" />
<path d="M707.3 217L707.8 317" stroke="#fff" stroke-width="1.3" fill="none" />
<path d="M712.3 215L712.8 317" stroke="#fff" stroke-width="1.3" fill="none" />
<path d="M700.9 218.5L716.4 217.6" stroke="#fff" stroke-width="1.5" fill="none" />
<path d="M693.4 225.7L717.7 224.8" stroke="#fff" stroke-width="1.5" fill="none" />
<path d="M699.5 232.8L716.8 231.9" stroke="#fff" stroke-width="1.5" fill="none" />
<path d="M695.7 240L715.7 239.1" stroke="#fff" stroke-width="1.5" fill="none" />
<path d="M701.2 247.1L717 246.2" stroke="#fff" stroke-width="1.5" fill="none" />
<path d="M693.1 254.3L716.4 253.4" stroke="#fff" stroke-width="1.5" fill="none" />
<path d="M701.6 261.4L716.6 260.5" stroke="#fff" stroke-width="1.5" fill="none" />
<path d="M695.2 268.6L715.9 267.7" stroke="#fff" stroke-width="1.5" fill="none" />
<path d="M700.2 275.7L715.8 274.8" stroke="#fff" stroke-width="1.5" fill="none" />
<path d="M694.5 282.8L717.8 281.9" stroke="#fff" stroke-width="1.5" fill="none" />
<path d="M701.3 290L717.4 289.1" stroke="#fff" stroke-width="1.5" fill="none" />
<path d="M694.2 297.1L717.4 296.2" stroke="#fff" stroke-width="1.5" fill="none" />
<path d="M699.8 304.3L716.2 303.4" stroke="#fff" stroke-width="1.5" fill="none" />
<path d="M695 311.4L717.3 310.5" stroke="#fff" stroke-width="1.5" fill="none" />
<ellipse cx="711" cy="81.5" rx="13.5" ry="10.5" stroke="#fff" stroke-width="2.1" fill="none" transform="rotate(-5 711 81.5)"/>
<ellipse cx="711.6" cy="82" rx="14.4" ry="11.2" stroke="#fff" stroke-width="0.8" fill="none" opacity="0.5" transform="rotate(1 711.6 82)"/>
<ellipse cx="712" cy="91.5" rx="13.5" ry="10" stroke="#fff" stroke-width="2.1" fill="none" transform="rotate(-3 712 91.5)"/>
<ellipse cx="712.6" cy="92" rx="14.4" ry="10.7" stroke="#fff" stroke-width="0.8" fill="none" opacity="0.5" transform="rotate(3 712.6 92)"/>
<ellipse cx="712.5" cy="111.5" rx="13" ry="12" stroke="#fff" stroke-width="2.1" fill="none"/>
<ellipse cx="713.1" cy="112" rx="13.9" ry="12.7" stroke="#fff" stroke-width="0.8" fill="none" opacity="0.5" transform="rotate(6 713.1 112)"/>
<ellipse cx="710" cy="141.5" rx="14" ry="13" stroke="#fff" stroke-width="2.1" fill="none"/>
<ellipse cx="710.6" cy="142" rx="14.9" ry="13.7" stroke="#fff" stroke-width="0.8" fill="none" opacity="0.5" transform="rotate(6 710.6 142)"/>
<ellipse cx="711" cy="184" rx="14.5" ry="13" stroke="#fff" stroke-width="2.1" fill="none"/>
<ellipse cx="711.6" cy="184.5" rx="15.4" ry="13.7" stroke="#fff" stroke-width="0.8" fill="none" opacity="0.5" transform="rotate(6 711.6 184.5)"/>
<ellipse cx="753" cy="139.5" rx="15" ry="12" stroke="#fff" stroke-width="2.1" fill="none" transform="rotate(-10 753 139.5)"/>
<ellipse cx="753.6" cy="140" rx="15.9" ry="12.7" stroke="#fff" stroke-width="0.8" fill="none" opacity="0.5" transform="rotate(-4 753.6 140)"/>
<ellipse cx="779.5" cy="112.5" rx="14" ry="12" stroke="#fff" stroke-width="2.1" fill="none" transform="rotate(-8 779.5 112.5)"/>
<ellipse cx="780.1" cy="113" rx="14.9" ry="12.7" stroke="#fff" stroke-width="0.8" fill="none" opacity="0.5" transform="rotate(-2 780.1 113)"/>
<ellipse cx="802" cy="100" rx="14" ry="12" stroke="#fff" stroke-width="2.1" fill="none" transform="rotate(-20 802 100)"/>
<ellipse cx="802.6" cy="100.5" rx="14.9" ry="12.7" stroke="#fff" stroke-width="0.8" fill="none" opacity="0.5" transform="rotate(-14 802.6 100.5)"/>
<ellipse cx="834" cy="89" rx="14" ry="11" stroke="#fff" stroke-width="2.1" fill="none"/>
<ellipse cx="834.6" cy="89.5" rx="14.9" ry="11.7" stroke="#fff" stroke-width="0.8" fill="none" opacity="0.5" transform="rotate(6 834.6 89.5)"/>
<ellipse cx="871" cy="98.5" rx="14" ry="12" stroke="#fff" stroke-width="2.1" fill="none" transform="rotate(8 871 98.5)"/>
<ellipse cx="871.6" cy="99" rx="14.9" ry="12.7" stroke="#fff" stroke-width="0.8" fill="none" opacity="0.5" transform="rotate(14 871.6 99)"/>
<ellipse cx="899.5" cy="112.5" rx="14" ry="12" stroke="#fff" stroke-width="2.1" fill="none" transform="rotate(8 899.5 112.5)"/>
<ellipse cx="900.1" cy="113" rx="14.9" ry="12.7" stroke="#fff" stroke-width="0.8" fill="none" opacity="0.5" transform="rotate(14 900.1 113)"/>
<ellipse cx="932" cy="140" rx="14" ry="12.5" stroke="#fff" stroke-width="2.1" fill="none" transform="rotate(5 932 140)"/>
<ellipse cx="932.6" cy="140.5" rx="14.9" ry="13.2" stroke="#fff" stroke-width="0.8" fill="none" opacity="0.5" transform="rotate(11 932.6 140.5)"/>
<ellipse cx="954" cy="180" rx="14" ry="12.5" stroke="#fff" stroke-width="2.1" fill="none"/>
<ellipse cx="954.6" cy="180.5" rx="14.9" ry="13.2" stroke="#fff" stroke-width="0.8" fill="none" opacity="0.5" transform="rotate(6 954.6 180.5)"/>
<path d="M711.5 50 L711 120 L710.5 184" stroke="#fff" stroke-width="1.4" fill="none" stroke-dasharray="2.5 3"/>
<path d="M726 82 L800 81 L900 81 L950 81.3" stroke="#fff" stroke-width="1.4" fill="none" stroke-dasharray="5 3"/>
<path d="M955 81.3 L982 82" stroke="#fff" stroke-width="1.3" fill="none" stroke-dasharray="1.5 3.5"/>
<path d="M979.5 77.5 L984.5 82.5 L980 88.5" stroke="#fff" stroke-width="1.1" fill="none" />
<path d="M780 84 L780.5 130 L781.5 177" stroke="#fff" stroke-width="1.4" fill="none" stroke-dasharray="2.5 3"/>
<path d="M836.5 86 L837 130 L838 176" stroke="#fff" stroke-width="1.4" fill="none" stroke-dasharray="2.5 3"/>
<path d="M902.5 86 L902.5 130 L902.5 176" stroke="#fff" stroke-width="1.4" fill="none" stroke-dasharray="2.5 3"/>
<path d="M711 180.5 L760 181 L800 180 L860 179.5 L945 179.5" stroke="#fff" stroke-width="1.4" fill="none" stroke-dasharray="6 3 1.5 3"/>
<path d="M712 183 C718.8 175.8 741.8 151.8 753 140 C764.2 128.2 771.3 119.2 779.5 112.5 C787.7 105.8 792.9 103.8 802 100 C811.1 96.2 822.5 89.8 834 89.5 C845.5 89.2 860.1 94.7 871 98.5 C881.9 102.3 889.3 105.6 899.5 112.5 C909.7 119.4 922.9 129.1 932 140 C941.1 150.9 950.3 171.7 954 178" stroke="#fff" stroke-width="1.4" fill="none" stroke-dasharray="3 3"/>
<path d="M855.7 212.4 C855.1 211.8 853.6 210.2 852.5 209.1 C851.4 208.1 850.2 207.1 849.1 206.1 C847.9 205.1 846.7 204.2 845.4 203.3 C844.1 202.4 842.8 201.6 841.5 200.8 C840.2 200 838.8 199.3 837.4 198.6 C836 198 834.5 197.3 833.1 196.8 C831.6 196.2 830.1 195.7 828.6 195.2 C827.2 194.7 825.6 194.3 824.1 193.9 C822.6 193.5 821 193.2 819.5 192.9 C817.9 192.6 816.3 192.4 814.8 192.2 C813.2 192.1 811.6 191.9 810 191.9 C808.4 191.9 806.8 191.9 805.2 192 C803.6 192 802 192.2 800.5 192.3 C798.9 192.5 797.3 192.7 795.7 193 C794.1 193.3 792.6 193.7 791 194.1 C789.5 194.4 787.9 194.9 786.4 195.4 C784.9 195.9 783.4 196.4 781.9 197 C780.4 197.6 779 198.3 777.5 199 C776.1 199.7 774.7 200.4 773.3 201.2 C771.9 202 770.6 202.9 769.3 203.8 C768 204.8 766.7 205.7 765.5 206.7 C764.3 207.7 763.1 208.8 761.9 209.9 C760.8 210.9 759.6 212.1 758.6 213.2 C757.5 214.4 756.5 215.6 755.5 216.8 C754.5 218 753.5 219.3 752.6 220.6 C751.7 221.9 750.9 223.2 750.1 224.6 C749.3 225.9 748.5 227.3 747.8 228.7 C747.1 230.1 746.5 231.5 745.9 232.9 C745.3 234.4 744.7 235.9 744.2 237.3 C743.7 238.8 743.3 240.3 742.9 241.8 C742.5 243.3 742.2 244.9 741.9 246.4 C741.6 247.9 741.4 249.5 741.3 251 C741.2 252.6 741.1 254.1 741 255.7 C741 257.2 741 258.8 741.1 260.3 C741.2 261.9 741.3 263.4 741.5 265 C741.7 266.5 741.9 268 742.2 269.5 C742.5 271.1 742.9 272.6 743.3 274.1 C743.7 275.6 744.2 277 744.7 278.5 C745.2 280 745.8 281.4 746.4 282.8 C747 284.3 747.7 285.7 748.4 287 C749.1 288.4 749.9 289.8 750.7 291.1 C751.5 292.4 752.4 293.7 753.3 294.9 C754.2 296.2 755.2 297.4 756.2 298.6 C757.2 299.8 758.2 301 759.3 302.1 C760.4 303.2 761.5 304.3 762.7 305.4 C763.8 306.4 765 307.4 766.3 308.4 C767.5 309.3 768.7 310.3 770 311.1 C771.3 312 772.7 312.8 774 313.6 C775.4 314.4 776.7 315.2 778.1 316 C779.5 316.7 780.9 317.4 782.3 318 C783.8 318.7 785.2 319.3 786.7 319.8 C788.2 320.4 789.7 320.9 791.2 321.3 C792.7 321.7 794.3 322.1 795.8 322.5 C797.4 322.8 798.9 323.1 800.5 323.3 C802.1 323.6 803.6 323.7 805.2 323.9 C806.8 324 808.4 324.1 810 324.1 C811.6 324.1 813.2 324 814.8 323.9 C816.4 323.8 817.9 323.6 819.5 323.4 C821.1 323.2 822.7 322.9 824.2 322.6 C825.8 322.3 827.3 321.9 828.8 321.5 C830.3 321 831.8 320.5 833.3 319.9 C834.8 319.3 836.2 318.6 837.6 317.9 C839 317.2 840.4 316.5 841.8 315.7 C843.1 314.9 844.4 314 845.6 313.1 C846.9 312.2 848.6 310.6 849.2 310.1 L846.6 306.5 C845.9 306.8 844 307.8 842.7 308.4 C841.4 309 840.1 309.6 838.8 310.2 C837.5 310.7 836.2 311.2 834.9 311.7 C833.5 312.2 832.2 312.6 830.8 313 C829.5 313.4 828.1 313.8 826.7 314.1 C825.4 314.5 824 314.8 822.6 315.1 C821.2 315.4 819.8 315.6 818.4 315.8 C817 316 815.6 316.1 814.2 316.2 C812.8 316.3 811.4 316.3 810 316.3 C808.6 316.3 807.2 316.3 805.8 316.2 C804.4 316.1 802.9 316 801.5 315.9 C800.1 315.7 798.7 315.5 797.4 315.2 C796 314.9 794.6 314.6 793.2 314.3 C791.9 313.9 790.5 313.5 789.2 313.1 C787.8 312.6 786.5 312.1 785.2 311.6 C783.9 311.1 782.6 310.5 781.3 309.9 C780.1 309.2 778.8 308.6 777.6 307.9 C776.4 307.1 775.3 306.3 774.1 305.5 C773 304.7 771.9 303.8 770.8 302.9 C769.8 302 768.7 301.1 767.7 300.1 C766.7 299.2 765.8 298.2 764.8 297.1 C763.9 296.1 763 295 762.2 294 C761.3 292.9 760.5 291.8 759.7 290.6 C759 289.5 758.2 288.3 757.6 287.1 C756.9 285.9 756.2 284.7 755.6 283.5 C755 282.3 754.5 281 754 279.8 C753.5 278.5 753 277.2 752.6 275.9 C752.2 274.6 751.8 273.3 751.5 272 C751.2 270.7 750.9 269.4 750.7 268.1 C750.5 266.7 750.3 265.4 750.2 264 C750.1 262.7 750 261.4 750 260 C750 258.7 750 257.3 750 256 C750.1 254.6 750.2 253.3 750.4 252 C750.6 250.6 750.8 249.3 751.1 248 C751.3 246.7 751.6 245.4 751.9 244.1 C752.3 242.8 752.7 241.5 753.1 240.2 C753.5 238.9 754 237.7 754.5 236.5 C755.1 235.2 755.6 234 756.2 232.8 C756.8 231.6 757.5 230.4 758.2 229.2 C758.9 228.1 759.6 227 760.4 225.8 C761.2 224.7 762 223.7 762.9 222.6 C763.7 221.6 764.6 220.5 765.6 219.5 C766.5 218.5 767.5 217.6 768.5 216.7 C769.5 215.7 770.5 214.8 771.6 214 C772.6 213.1 773.7 212.3 774.9 211.5 C776 210.7 777.2 210 778.3 209.3 C779.5 208.6 780.7 207.8 781.9 207.2 C783.1 206.5 784.4 205.9 785.6 205.3 C786.9 204.7 788.2 204.2 789.5 203.7 C790.8 203.2 792.1 202.8 793.4 202.4 C794.7 202 796.1 201.6 797.5 201.3 C798.8 201 800.2 200.7 801.6 200.5 C803 200.3 804.4 200.1 805.8 199.9 C807.2 199.8 808.6 199.7 810 199.7 C811.4 199.7 812.8 199.6 814.2 199.7 C815.7 199.7 817.1 199.8 818.5 199.9 C819.9 200 821.3 200.2 822.7 200.4 C824.1 200.7 825.5 200.9 826.9 201.2 C828.3 201.6 829.7 201.9 831 202.3 C832.4 202.8 833.8 203.2 835.1 203.7 C836.4 204.2 837.8 204.8 839.1 205.4 C840.4 206 841.7 206.6 842.9 207.2 C844.2 207.9 845.5 208.5 846.8 209.3 C848 210 849.2 210.8 850.4 211.6 C851.6 212.4 853.4 213.7 853.9 214.2Z" stroke="#fff" stroke-width="0.9" fill="#fff" />
<path d="M799.2 198.8 C798 199.1 794.4 199.9 792 200.7 C789.5 201.4 787.2 202.3 784.7 203.2 C782.3 204.2 779.4 205 777.2 206.2 C775.1 207.4 773.7 209.1 771.8 210.6 C770 212 767.9 213.2 766.1 214.9 C764.2 216.6 762.2 218.6 760.6 220.6 C758.9 222.6 757.7 224.9 756.3 227 C754.9 229.1 753.3 230.9 752.2 233.1 C751.2 235.4 750.4 238.4 749.8 240.8 C749.2 243.1 748.9 244.9 748.5 247.2 C748.2 249.5 747.8 252 747.7 254.5 C747.5 256.9 747.5 259.3 747.6 261.8 C747.6 264.4 747.5 267.5 748 269.9 C748.4 272.3 749.1 274 750.1 276.4 C751 278.7 752.6 281.6 753.7 283.9 C754.7 286.2 755.3 288.4 756.6 290.5 C757.9 292.5 759.7 294.3 761.3 296.2 C762.9 298.1 764.3 300.1 766.1 301.9 C768 303.6 770.3 305.3 772.5 306.7 C774.6 308.1 776.9 309 779 310.1 C781.2 311.2 783.1 312.3 785.4 313.3 C787.6 314.2 789.9 314.9 792.4 315.6 C794.8 316.4 797.5 317.3 800 317.8 C802.5 318.2 804.8 318.5 807.3 318.5 C809.9 318.6 812.6 318.2 815.3 318 C818 317.7 820.9 317.5 823.4 317.1 C825.8 316.6 829.1 315.4 830.2 315.1" stroke="#034a8b" stroke-width="0.7" fill="none" opacity="0.4" />
<path d="M799 196 C797.7 196.3 794 196.9 791.5 197.8 C789 198.6 786.5 200.1 783.9 201.2 C781.3 202.4 778.5 203.5 776.1 204.7 C773.8 206 772 207.4 770 208.8 C767.9 210.3 765.6 211.5 763.7 213.4 C761.8 215.2 760.2 217.9 758.6 220 C757 222.1 755.4 223.9 754.2 226.1 C752.9 228.2 752.3 230.8 751.2 233 C750.2 235.3 748.7 237.2 747.9 239.6 C747 242 746.7 244.9 746.2 247.4 C745.7 250 745 252.4 744.9 255 C744.8 257.5 745.5 260.2 745.7 262.7 C745.8 265.3 745.5 268 745.9 270.4 C746.3 272.8 747.1 274.7 748 277.2 C748.9 279.6 750.2 282.4 751.4 284.8 C752.5 287.2 753.5 289.5 754.9 291.5 C756.3 293.6 758 295.3 759.7 297.1 C761.3 299 763 300.9 764.8 302.6 C766.6 304.4 768.4 305.9 770.6 307.6 C772.7 309.2 775.5 311.4 777.8 312.6 C780.1 313.9 781.9 314.2 784.3 315.1 C786.8 316 790.1 317.4 792.6 318.1 C795.2 318.8 797.2 319 799.8 319.5 C802.3 319.9 805.2 320.7 807.8 320.8 C810.5 320.9 813.1 320.4 815.6 320.2 C818.1 320 820.5 320.1 823 319.6 C825.5 319 829.4 317.5 830.6 317.1" stroke="#034a8b" stroke-width="0.7" fill="none" opacity="0.4" />
<path d="M798.8 194.4 C797.5 194.8 793.4 196.2 790.8 197.1 C788.2 197.9 785.7 198.7 783.1 199.6 C780.5 200.6 777.8 201.6 775.4 202.9 C773 204.3 770.8 206.1 768.7 207.8 C766.6 209.4 764.5 210.7 762.8 212.6 C761 214.4 759.6 216.8 758.1 218.8 C756.5 220.9 755 222.7 753.5 224.9 C752 227.1 750.4 229.8 749.2 232.1 C748.1 234.5 747.2 236.6 746.4 239 C745.6 241.4 744.9 243.8 744.4 246.5 C743.9 249.2 743.5 252.4 743.5 255.1 C743.4 257.8 743.9 260.1 744.1 262.6 C744.3 265.1 744.4 267.6 744.7 270.1 C745.1 272.6 745.5 275 746.3 277.6 C747.2 280.2 748.8 283.1 750 285.5 C751.2 287.9 752 290.1 753.5 292.3 C754.9 294.5 756.8 296.6 758.6 298.6 C760.3 300.6 762.1 302.6 764 304.4 C765.8 306.3 767.7 308 769.8 309.5 C771.9 311 774.1 312.3 776.5 313.6 C778.9 314.9 781.8 316.2 784.3 317.3 C786.8 318.4 788.9 319.5 791.5 320.2 C794 320.9 797.1 321.1 799.7 321.5 C802.4 321.8 804.6 322.1 807.2 322.2 C809.8 322.3 812.8 322.3 815.5 322.1 C818.3 321.9 821.1 321.6 823.8 321.1 C826.5 320.6 830.5 319.4 831.8 319" stroke="#034a8b" stroke-width="0.7" fill="none" opacity="0.4" />
<path d="M854.6 301.2 L834.8 302.3 L845.2 316.3Z" stroke="#fff" stroke-width="1.8" fill="#e9dbe8" fill-opacity="0.8"/>
<path d="M838 306L851 302.5" stroke="#fff" stroke-width="1.0" fill="none" />
<path d="M841.5 310.5L850 304.5" stroke="#fff" stroke-width="1.0" fill="none" />
<path d="M854.6 213.5 C855.5 214.9 858.4 218.9 860 222 C861.6 225.1 863 228.6 864.3 231.8 C865.5 235 866.7 238 867.5 241 C868.3 244 868.9 247 869.2 250 C869.5 253 869.5 256.2 869.4 259 C869.3 261.8 869.2 264 868.6 267 C868 270 867.1 273.3 866 277 C864.9 280.7 862.7 287 862 289" stroke="#fff" stroke-width="1.5" fill="none" />
<path d="M810 256L854 214.5" stroke="#fff" stroke-width="1.8" fill="none" />
<path d="M813.5 259.6L870 258.8" stroke="#fff" stroke-width="1.9" fill="none" />
<path d="M807.9 254.6 C807.6 254.3 806.8 253.4 806.2 253 C805.6 252.6 804.9 252.2 804.2 251.9 C803.5 251.7 802.7 251.5 802 251.4 C801.2 251.4 800.4 251.4 799.7 251.5 C799 251.7 798.2 251.9 797.5 252.2 C796.8 252.6 796.2 253 795.6 253.5 C795 254 794.5 254.6 794.1 255.2 C793.6 255.8 793.3 256.5 793 257.3 C792.8 258 792.6 258.8 792.5 259.5 C792.5 260.3 792.5 261.1 792.6 261.8 C792.8 262.6 793 263.4 793.3 264.1 C793.6 264.8 794.1 265.4 794.5 266 C795 266.6 795.6 267.2 796.2 267.6 C796.8 268 797.5 268.4 798.2 268.7 C798.9 268.9 799.7 269.1 800.4 269.2 C801.2 269.2 802.3 269.1 802.7 269.1" stroke="#fff" stroke-width="2.4" fill="none" />
<path d="M815 268.3 L806.2 266.3 L807 274.8Z" stroke="#fff" stroke-width="1.5" fill="#fff" fill-opacity="0.6"/>
<path d="M813 263.5 L852 296" stroke="#fff" stroke-width="1.4" fill="none" stroke-dasharray="3 3"/>
<path d="M953 60L952.3 443" stroke="#fff" stroke-width="1.5" fill="none" />
<path d="M950 65.5 L952.8 59 L956 65" stroke="#fff" stroke-width="1.3" fill="none" />
<path d="M953 117.5 C955 118.8 961.2 122 965 125 C968.8 128 972.5 131.5 976 135.5 C979.5 139.5 983.8 144.9 986 149 C988.2 153.1 989.5 155.7 989 160 C988.5 164.3 986.2 170.2 983 175 C979.8 179.8 974.8 185.2 970 189 C965.2 192.8 956.7 196.1 954 197.5" stroke="#fff" stroke-width="1.8" fill="none" />
<path d="M955.5 195.2 C953.9 195.8 949.1 197.6 946 199 C942.9 200.4 940.7 201 936.7 203.8 C932.7 206.6 926.1 211.6 922 215.7 C917.9 219.8 914.1 225.1 912 228.5 C909.9 231.9 909.3 233.6 909.2 236 C909.1 238.4 910.2 240.9 911.3 243 C912.3 245.1 913.4 246.1 915.5 248.5 C917.6 250.9 920.8 254.8 924 257.6 C927.2 260.4 931.1 262.9 934.6 265.2 C938.1 267.5 942.2 269.4 945.2 271.2 C948.2 272.9 949.4 273.4 952.7 275.7 C956 278 961 281.8 964.8 284.8 C968.6 287.8 972.6 291.3 975.3 293.8 C978 296.3 979.9 298.2 981 300 C982.1 301.8 982.1 302.4 981.7 304.5 C981.4 306.6 980.6 309.5 978.9 312.7 C977.2 315.9 974.6 319.9 971.6 323.7 C968.6 327.5 964.3 331.9 960.6 335.6 C956.9 339.3 952.4 343.2 949.5 345.7 C946.6 348.2 944.5 349.7 943.5 350.5 L953.5 350 C955.3 348.4 960.3 344 964.2 340.2 C968.1 336.4 973.3 331.7 977 327.4 C980.7 323.1 983.8 318.7 986.2 314.5 C988.6 310.3 990.4 305.1 991.2 302 C992 298.9 991.9 298.4 991 296 C990.1 293.6 988.5 290.7 985.9 287.8 C983.3 284.9 979.1 281.6 975.3 278.7 C971.5 275.8 967.1 272.8 963.3 270.4 C959.5 268 956.2 266.5 952.7 264.4 C949.2 262.3 945.6 260 942.1 257.6 C938.6 255.2 934.6 252.6 931.6 250.1 C928.6 247.6 925.7 244.8 924 242.5 C922.3 240.2 921.7 238.2 921.5 236 C921.3 233.8 921.6 232.2 922.9 229.4 C924.2 226.6 926.5 222.6 929.4 219.4 C932.3 216.2 936.3 213 940.4 210.2 C944.5 207.4 951.7 203.8 954 202.5Z" stroke="#fff" stroke-width="0.8" fill="#fff" />
<path d="M947 349.5 C945.5 350.9 941 354.8 938 358 C935 361.2 931.3 365.2 929 369 C926.7 372.8 924.4 377 924 381 C923.6 385 924.5 388.7 926.5 393 C928.5 397.3 932.8 402.8 936 407 C939.2 411.2 943.2 415.2 946 418 C948.8 420.8 951.4 423 952.5 424" stroke="#fff" stroke-width="1.7" fill="none" />
<path d="M941.5 209.2L952.3 209" stroke="#fff" stroke-width="1.15" fill="none" />
<path d="M935.6 213.9L952.3 213.5" stroke="#fff" stroke-width="1.15" fill="none" />
<path d="M930.2 218.5L952.3 218" stroke="#fff" stroke-width="1.15" fill="none" />
<path d="M926.7 223.1L952.3 222.5" stroke="#fff" stroke-width="1.15" fill="none" />
<path d="M923.8 227.2L952.3 227" stroke="#fff" stroke-width="1.15" fill="none" />
<path d="M921.9 232.1L952.3 231.5" stroke="#fff" stroke-width="1.15" fill="none" />
<path d="M921.1 236.6L952.3 236" stroke="#fff" stroke-width="1.15" fill="none" />
<path d="M922.8 241L952.3 240.5" stroke="#fff" stroke-width="1.15" fill="none" />
<path d="M926.3 245.7L952.3 245" stroke="#fff" stroke-width="1.15" fill="none" />
<path d="M930.8 250.2L952.3 249.5" stroke="#fff" stroke-width="1.15" fill="none" />
<path d="M937 254.3L952.3 254" stroke="#fff" stroke-width="1.15" fill="none" />
<path d="M943.5 258.8L952.3 258.5" stroke="#fff" stroke-width="1.15" fill="none" />
<path d="M953 277L954.9 276.7" stroke="#fff" stroke-width="1.15" fill="none" />
<path d="M953 281.5L960.9 281.8" stroke="#fff" stroke-width="1.15" fill="none" />
<path d="M953 286.7L967.5 287" stroke="#fff" stroke-width="1.15" fill="none" />
<path d="M953 293L974.9 293" stroke="#fff" stroke-width="1.15" fill="none" />
<path d="M953 299.5L981 299.7" stroke="#fff" stroke-width="1.15" fill="none" />
<path d="M953 304.4L982.2 304.6" stroke="#fff" stroke-width="1.15" fill="none" />
<path d="M953 309L980.7 309.2" stroke="#fff" stroke-width="1.15" fill="none" />
<path d="M953 313.6L978.8 313.3" stroke="#fff" stroke-width="1.15" fill="none" />
<path d="M953 320L974.6 320.2" stroke="#fff" stroke-width="1.15" fill="none" />
<path d="M953 326.5L969.5 326.6" stroke="#fff" stroke-width="1.15" fill="none" />
<path d="M953 331L965.4 331.1" stroke="#fff" stroke-width="1.15" fill="none" />
<path d="M953 335.6L961.1 335.5" stroke="#fff" stroke-width="1.15" fill="none" />
<path d="M953 340.2L956 340.3" stroke="#fff" stroke-width="1.15" fill="none" />
<path d="M995.5 174.5 L1004.5 174 L1005.3 302 L997 302.8" stroke="#fff" stroke-width="1.6" fill="none" />
<path d="M991.3 247L992.8 346.5" stroke="#fff" stroke-width="1.5" fill="none" />
<path d="M17.5 189.5 C17.8 188.8 18.5 185.5 19 185.5 C19.5 185.5 20 189.3 20.5 189.5 C21 189.7 21.3 186.8 22 186.5 C22.7 186.2 24.1 187.8 24.5 188" stroke="#fff" stroke-width="1.5" fill="none" />
<path d="M143.5 301.5L156 300.3" stroke="#fff" stroke-width="1.5" fill="none" />
<path d="M931 285.3L943.5 283.6" stroke="#fff" stroke-width="1.5" fill="none" />
<path d="M391 241L393.5 238" stroke="#fff" stroke-width="0.9" fill="none" />
</g>
<g fill="#fff" stroke="none" font-family="'Liberation Sans', 'DejaVu Sans', sans-serif">
<text x="6.5" y="191.5" font-size="12" textLength="10.5" lengthAdjust="spacingAndGlyphs" font-style="italic" font-weight="bold">m</text>
<text x="102.5" y="159.5" font-size="17" stroke="#fff" stroke-width="0.25" textLength="12.5" lengthAdjust="spacingAndGlyphs">R</text>
<text x="180.5" y="133.5" font-size="20" stroke="#fff" stroke-width="0.25" textLength="20.5" lengthAdjust="spacingAndGlyphs" transform="rotate(-9 180.5 133.5)">T</text>
<text x="78" y="248" font-size="11.5" stroke="#fff" stroke-width="0.5" stroke-linejoin="round" textLength="58" lengthAdjust="spacingAndGlyphs">ΣT=F·R</text>
<text x="97" y="267" font-size="11.5" stroke="#fff" stroke-width="0.5" stroke-linejoin="round" textLength="60" lengthAdjust="spacingAndGlyphs">=m·g·R</text>
<text x="98.5" y="285" font-size="11.5" stroke="#fff" stroke-width="0.5" stroke-linejoin="round" textLength="8" lengthAdjust="spacingAndGlyphs">=</text>
<text x="109.5" y="285.5" font-size="13" font-family="'Liberation Serif', 'DejaVu Serif', serif" textLength="8" lengthAdjust="spacingAndGlyphs" font-weight="bold">I</text>
<text x="119.5" y="285" font-size="12" stroke="#fff" stroke-width="0.5" stroke-linejoin="round" textLength="13" lengthAdjust="spacingAndGlyphs">ω</text>
<text x="77.5" y="305" font-size="11.5" stroke="#fff" stroke-width="0.5" stroke-linejoin="round" textLength="52" lengthAdjust="spacingAndGlyphs" font-style="italic">mg·R=</text>
<text x="131" y="305.5" font-size="13" font-family="'Liberation Serif', 'DejaVu Serif', serif" textLength="8" lengthAdjust="spacingAndGlyphs" font-weight="bold">I</text>
<text x="146.5" y="299.5" font-size="9.5" textLength="6" lengthAdjust="spacingAndGlyphs" font-weight="bold">v</text>
<text x="145.5" y="311.5" font-size="9" textLength="6.5" lengthAdjust="spacingAndGlyphs" font-weight="bold">R</text>
<text x="58" y="358" font-size="12" textLength="6.5" lengthAdjust="spacingAndGlyphs" font-weight="bold">F</text>
<text x="64" y="364.5" font-size="9" textLength="4.5" lengthAdjust="spacingAndGlyphs" font-weight="bold">g</text>
<text x="281.5" y="207.5" font-size="9" textLength="33" lengthAdjust="spacingAndGlyphs" transform="rotate(-34 281.5 207.5)" font-style="italic">Hxtl</text>
<text x="356" y="201" font-size="9" textLength="5.8" lengthAdjust="spacingAndGlyphs" font-weight="bold">θ</text>
<text x="357.8" y="241.5" font-size="11" textLength="6" lengthAdjust="spacingAndGlyphs" font-weight="bold">F</text>
<text x="364" y="243.5" font-size="7" textLength="4.5" lengthAdjust="spacingAndGlyphs" font-weight="bold">T</text>
<text x="357.5" y="328" font-size="11" textLength="6" lengthAdjust="spacingAndGlyphs" font-weight="bold">F</text>
<text x="362.3" y="329.5" font-size="8.5" textLength="4.8" lengthAdjust="spacingAndGlyphs" font-weight="bold">g</text>
<text x="393.5" y="239.5" font-size="8.5" textLength="5" lengthAdjust="spacingAndGlyphs" font-weight="bold">Y</text>
<text x="399" y="241.5" font-size="6" textLength="2.5" lengthAdjust="spacingAndGlyphs" font-weight="bold">1</text>
<text x="433.5" y="239" font-size="9" textLength="10.5" lengthAdjust="spacingAndGlyphs" font-weight="bold">10</text>
<text x="503" y="239.5" font-size="8" textLength="24" lengthAdjust="spacingAndGlyphs" font-weight="bold">(7,10)</text>
<text x="496" y="328" font-size="8" textLength="4.2" lengthAdjust="spacingAndGlyphs" font-weight="bold">7</text>
<text x="404" y="413.5" font-size="8.5" textLength="5" lengthAdjust="spacingAndGlyphs" font-weight="bold">Y</text>
<text x="409" y="415.5" font-size="6.5" textLength="3.5" lengthAdjust="spacingAndGlyphs" font-weight="bold">2</text>
<text x="490.4" y="353.5" font-size="9.5" textLength="5.5" lengthAdjust="spacingAndGlyphs" font-weight="bold">Y</text>
<text x="496" y="355.5" font-size="6" textLength="2.5" lengthAdjust="spacingAndGlyphs" font-weight="bold">1</text>
<text x="499.5" y="353.5" font-size="9.5" textLength="19.5" lengthAdjust="spacingAndGlyphs" font-weight="bold">= kx</text>
<text x="519.5" y="349" font-size="6.5" textLength="3.5" lengthAdjust="spacingAndGlyphs" font-weight="bold">2</text>
<text x="525" y="353.5" font-size="9.5" textLength="14" lengthAdjust="spacingAndGlyphs" font-weight="bold">+ 1</text>
<text x="488" y="368.5" font-size="9.5" textLength="5.5" lengthAdjust="spacingAndGlyphs" font-weight="bold">Y</text>
<text x="494" y="371" font-size="6.5" textLength="3.5" lengthAdjust="spacingAndGlyphs" font-weight="bold">2</text>
<text x="499" y="382.5" font-size="27" textLength="6" lengthAdjust="spacingAndGlyphs">{</text>
<text x="507.6" y="367.5" font-size="9.5" textLength="16" lengthAdjust="spacingAndGlyphs" font-weight="bold">−10</text>
<text x="528.5" y="367.5" font-size="9.5" textLength="19" lengthAdjust="spacingAndGlyphs" font-weight="bold">x&lt;0</text>
<text x="507.6" y="381.5" font-size="9.5" textLength="11" lengthAdjust="spacingAndGlyphs" font-weight="bold">cx</text>
<text x="519" y="377.5" font-size="6.5" textLength="3.5" lengthAdjust="spacingAndGlyphs" font-weight="bold">2</text>
<text x="525" y="382.5" font-size="9.5" textLength="27" lengthAdjust="spacingAndGlyphs" font-weight="bold">−10 ,</text>
<text x="556" y="382" font-size="9.5" textLength="19" lengthAdjust="spacingAndGlyphs" font-weight="bold">x&gt;0</text>
<text x="510" y="100.5" font-size="11" stroke="#fff" stroke-width="0.25" textLength="33" lengthAdjust="spacingAndGlyphs">+BUS</text>
<text x="636.5" y="90" font-size="11" stroke="#fff" stroke-width="0.25" textLength="35" lengthAdjust="spacingAndGlyphs" transform="rotate(-5 636.5 90)">−BUS</text>
<text x="564.5" y="209.5" font-size="13" stroke="#fff" stroke-width="0.5" stroke-linejoin="round" textLength="9" lengthAdjust="spacingAndGlyphs">R</text>
<text x="574" y="211.5" font-size="7" textLength="3" lengthAdjust="spacingAndGlyphs" font-weight="bold">1</text>
<text x="613.8" y="211" font-size="13" stroke="#fff" stroke-width="0.5" stroke-linejoin="round" textLength="9.5" lengthAdjust="spacingAndGlyphs">R</text>
<text x="625" y="213.5" font-size="8.5" textLength="6" lengthAdjust="spacingAndGlyphs" font-weight="bold">2</text>
<text x="584.7" y="338.8" font-size="11.5" stroke="#fff" stroke-width="0.5" stroke-linejoin="round" textLength="16" lengthAdjust="spacingAndGlyphs">9V</text>
<text x="820" y="232.5" font-size="12" textLength="9" lengthAdjust="spacingAndGlyphs" font-style="italic" font-weight="bold">R</text>
<text x="779" y="266" font-size="12" textLength="7" lengthAdjust="spacingAndGlyphs" font-weight="bold">θ</text>
<text x="786.5" y="269" font-size="8" textLength="3.5" lengthAdjust="spacingAndGlyphs" font-weight="bold">t</text>
<text x="821" y="257.5" font-size="10" textLength="6" lengthAdjust="spacingAndGlyphs" font-weight="bold">θ</text>
<text x="827.5" y="259.5" font-size="7" textLength="4.5" lengthAdjust="spacingAndGlyphs" font-weight="bold">+</text>
<text x="874.5" y="264" font-size="9.5" textLength="25" lengthAdjust="spacingAndGlyphs" font-weight="bold">θ = 0</text>
<text x="864.6" y="291" font-size="11.5" textLength="6.7" lengthAdjust="spacingAndGlyphs" font-weight="bold">θ</text>
<text x="872.2" y="293.5" font-size="8" textLength="2.8" lengthAdjust="spacingAndGlyphs" font-weight="bold">t</text>
<text x="876.5" y="290" font-size="9" textLength="4.5" lengthAdjust="spacingAndGlyphs" font-weight="bold">=</text>
<text x="883.6" y="291" font-size="11" textLength="6" lengthAdjust="spacingAndGlyphs" font-weight="bold">θ</text>
<text x="890.3" y="293" font-size="6.5" textLength="3.2" lengthAdjust="spacingAndGlyphs" font-weight="bold">o</text>
<text x="895" y="289.5" font-size="8" textLength="4" lengthAdjust="spacingAndGlyphs" font-weight="bold">+</text>
<text x="902.6" y="290.5" font-size="11" textLength="7.8" lengthAdjust="spacingAndGlyphs" font-weight="bold">ω</text>
<text x="910.3" y="292.5" font-size="6.5" textLength="3.2" lengthAdjust="spacingAndGlyphs" font-weight="bold">o</text>
<text x="914" y="290.5" font-size="11" textLength="3.6" lengthAdjust="spacingAndGlyphs" font-weight="bold">t</text>
<text x="920.4" y="289.5" font-size="8" textLength="4.2" lengthAdjust="spacingAndGlyphs" font-weight="bold">+</text>
<text x="928.5" y="283" font-size="8.5" textLength="10" lengthAdjust="spacingAndGlyphs" transform="rotate(-8 928.5 283)" font-weight="bold">αt</text>
<text x="939.5" y="278.5" font-size="6" textLength="3.5" lengthAdjust="spacingAndGlyphs" transform="rotate(-8 939.5 278.5)" font-weight="bold">2</text>
<text x="934.8" y="292.3" font-size="7.5" textLength="4.8" lengthAdjust="spacingAndGlyphs" font-weight="bold">2</text>
<text x="863.7" y="309" font-size="11.5" textLength="8.5" lengthAdjust="spacingAndGlyphs" font-weight="bold">ω</text>
<text x="872.2" y="311.5" font-size="7" textLength="2.8" lengthAdjust="spacingAndGlyphs" font-weight="bold">t</text>
<text x="872.5" y="304" font-size="6.5" textLength="3.5" lengthAdjust="spacingAndGlyphs" font-weight="bold">2</text>
<text x="878.4" y="308.5" font-size="9" textLength="4.5" lengthAdjust="spacingAndGlyphs" font-weight="bold">=</text>
<text x="889.3" y="309" font-size="11.5" textLength="8" lengthAdjust="spacingAndGlyphs" font-weight="bold">ω</text>
<text x="897" y="311" font-size="6.5" textLength="3.2" lengthAdjust="spacingAndGlyphs" font-weight="bold">o</text>
<text x="901.6" y="304" font-size="7" textLength="3.8" lengthAdjust="spacingAndGlyphs" font-weight="bold">2</text>
<text x="905.4" y="308.5" font-size="8.5" textLength="4.2" lengthAdjust="spacingAndGlyphs" font-weight="bold">+</text>
<text x="911" y="309" font-size="11" textLength="13" lengthAdjust="spacingAndGlyphs" font-weight="bold">2α</text>
<text x="926" y="309" font-size="11" textLength="21.5" lengthAdjust="spacingAndGlyphs" font-weight="bold">(Δθ)</text>
<text x="1011.5" y="238.5" font-size="15" textLength="8.5" lengthAdjust="spacingAndGlyphs" font-style="italic" font-weight="bold">λ</text>
</g>
</g></svg>
</body></html>
